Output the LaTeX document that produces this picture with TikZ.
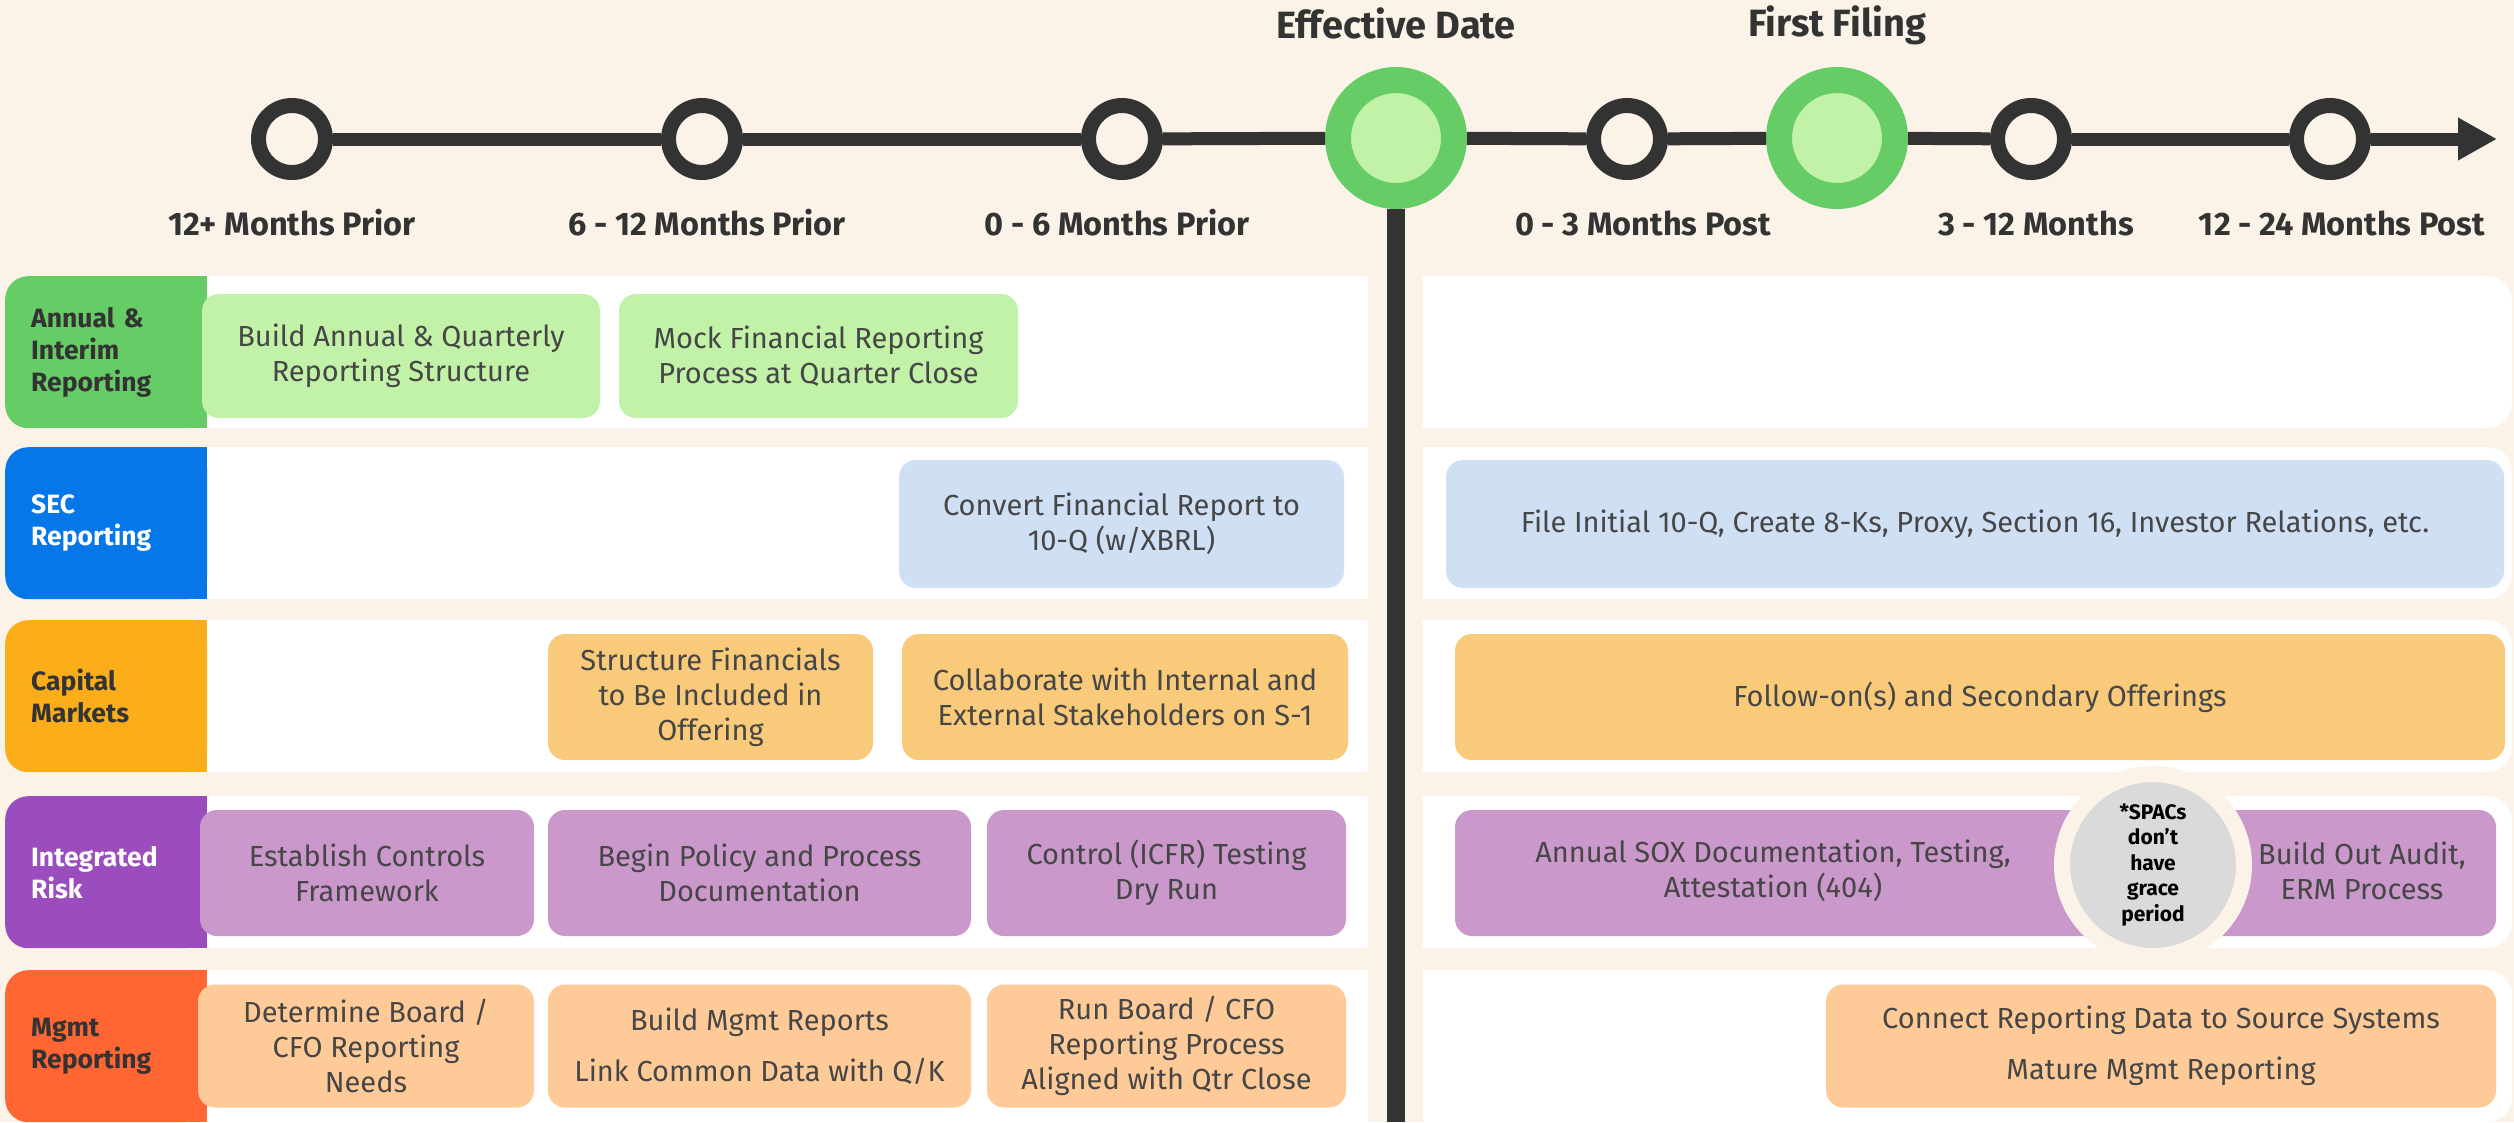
\documentclass[tikz,border=0pt]{standalone}
\usepackage{fontspec}
\setmainfont{Fira Sans}
\usetikzlibrary{arrows.meta}
\definecolor{cream}{HTML}{FCF3E8}
\definecolor{dark}{HTML}{333333}
\definecolor{txt}{HTML}{464646}
\definecolor{gA}{HTML}{66CC66}
\definecolor{gAl}{HTML}{C2F2A8}
\definecolor{blueA}{HTML}{0577E8}
\definecolor{blueL}{HTML}{CFE0F5}
\definecolor{orA}{HTML}{FBAE1A}
\definecolor{orL}{HTML}{F8CA7A}
\definecolor{puA}{HTML}{9C4DBD}
\definecolor{puL}{HTML}{CB98CC}
\definecolor{reA}{HTML}{FF6633}
\definecolor{reL}{HTML}{FECB98}
\definecolor{grC}{HTML}{DADADA}
\newcommand\bxf{\fontsize{29}{35}\selectfont}
\newcommand\tabf{\fontsize{26.5}{32}\selectfont\bfseries}
\newcommand\lblf{\fontsize{32.5}{38}\selectfont\bfseries}
\newcommand\ttlf{\fontsize{38}{44}\selectfont\bfseries}
\newcommand\spf{\fontsize{21}{25.5}\selectfont\bfseries}
\begin{document}
\begin{tikzpicture}[x=1pt,y=-1pt,
  box/.style={rounded corners=17pt, inner sep=0pt, align=center, text=txt, font=\bxf},
  tab/.style={rounded corners=23pt, inner sep=0pt, minimum width=202pt, minimum height=152pt,
    text width=150pt, align=left, font=\tabf, anchor=north west},
  ring/.style={circle, draw=dark, fill=cream, line width=15pt, minimum size=67pt, inner sep=0pt},
  gring/.style={circle, draw=gA, fill=gAl, line width=26pt, minimum size=116pt, inner sep=0pt},
  tl/.style={draw=dark, line width=13pt},
  lbl/.style={font=\lblf, text=dark, anchor=base, inner sep=0pt},
  ttl/.style={font=\ttlf, text=dark, anchor=base, inner sep=0pt}]
\useasboundingbox (0,0) rectangle (2514,1122);
\fill[cream] (0,0) rectangle (2514,1122);

% row bands
\foreach \ya/\yb in {276/428, 447/599, 620/772, 796/948, 970/1122}{
  \fill[white, rounded corners=25pt] (183,\ya) rectangle (1368,\yb);
  \fill[white] (1300,\ya) rectangle (1368,\yb);
  \fill[white, rounded corners=25pt] (1423,\ya) rectangle (2512,\yb);
  \fill[white] (1423,\ya) rectangle (1490,\yb);
}

% tabs
\fill[gA] (150,276) rectangle (207,428);
\node[tab, fill=gA, text=dark] (tabA) at (5,276) {Annual \&\\Interim\\Reporting};
\fill[blueA] (150,447) rectangle (207,599);
\node[tab, fill=blueA, text=white] (tabS) at (5,447) {SEC\\Reporting};
\fill[orA] (150,620) rectangle (207,772);
\node[tab, fill=orA, text=dark] (tabC) at (5,620) {Capital\\Markets};
\fill[puA] (150,796) rectangle (207,948);
\node[tab, fill=puA, text=white] (tabI) at (5,796) {Integrated\\Risk};
\fill[reA] (150,970) rectangle (207,1122);
\node[tab, fill=reA, text=dark] (tabM) at (5,970) {Mgmt\\Reporting};

% row 1
\node[box, fill=gAl, minimum width=398pt, minimum height=124pt] (a1) at (401,356) {Build Annual \& Quarterly\\Reporting Structure};
\node[box, fill=gAl, minimum width=399pt, minimum height=124pt] (a2) at (818.5,356) {Mock Financial Reporting\\Process at Quarter Close};
% row 2
\node[box, fill=blueL, minimum width=445pt, minimum height=128pt] (s1) at (1121.5,524) {Convert Financial Report to\\10-Q (w/XBRL)};
\node[box, fill=blueL, minimum width=1058pt, minimum height=128pt] (s2) at (1975,524) {File Initial 10-Q, Create 8-Ks, Proxy, Section 16, Investor Relations, etc.};
% row 3
\node[box, fill=orL, minimum width=325pt, minimum height=126pt] (c1) at (710.5,697) {Structure Financials\\to Be Included in\\Offering};
\node[box, fill=orL, minimum width=446pt, minimum height=126pt] (c2) at (1125,697) {Collaborate with Internal and\\External Stakeholders on S-1};
\node[box, fill=orL, minimum width=1050pt, minimum height=126pt] (c3) at (1980,697) {Follow-on(s) and Secondary Offerings};
% row 4
\node[box, fill=puL, minimum width=334pt, minimum height=126pt] (i1) at (367,873) {Establish Controls\\Framework};
\node[box, fill=puL, minimum width=423pt, minimum height=126pt] (i2) at (759.5,873) {Begin Policy and Process\\Documentation};
\node[box, fill=puL, minimum width=359pt, minimum height=126pt] (i3) at (1166.5,873) {Control (ICFR) Testing\\Dry Run};
\node[box, fill=puL, minimum width=1041pt, minimum height=126pt] (i4) at (1975.5,873) {};
\node[align=center, text=txt, font=\bxf, inner sep=0pt] (i4a) at (1773,871) {Annual SOX Documentation, Testing,\\Attestation (404)};
\node[align=center, text=txt, font=\bxf, inner sep=0pt] (i4b) at (2362,871) {Build Out Audit,\\ERM Process};
\node[circle, fill=grC, draw=cream, line width=16pt, minimum size=182pt, inner sep=0pt, align=center, font=\spf, text=black] (spac) at (2153,865) {*SPACs\\don’t\\have\\grace\\period};
% row 5
\node[box, fill=reL, minimum width=336pt, minimum height=123pt] (m1) at (366,1046) {Determine Board /\\CFO Reporting\\Needs};
\node[box, fill=reL, minimum width=423pt, minimum height=123pt] (m2) at (759.5,1046) {Build Mgmt Reports\\[16pt]Link Common Data with Q/K};
\node[box, fill=reL, minimum width=359pt, minimum height=123pt] (m3) at (1166.5,1046) {Run Board / CFO\\Reporting Process\\Aligned with Qtr Close};
\node[box, fill=reL, minimum width=670pt, minimum height=123pt] (m4) at (2161,1046) {Connect Reporting Data to Source Systems\\[16pt]Mature Mgmt Reporting};

% timeline
\node[ring] (t1) at (292,139) {};
\node[ring] (t2) at (702,139) {};
\node[ring] (t3) at (1122,139) {};
\node[gring] (eff) at (1396,138) {};
\node[ring] (t4) at (1627,139) {};
\node[gring] (ff) at (1837,138) {};
\node[ring] (t5) at (2031,139) {};
\node[ring] (t6) at (2330,139) {};
\coordinate (tend) at (2497,139);
\coordinate (vend) at (1396,1122);
\draw[tl] (t1) -- (t2);
\draw[tl] (t2) -- (t3);
\draw[tl] (t3) -- (eff);
\draw[tl] (eff) -- (t4);
\draw[tl] (t4) -- (ff);
\draw[tl] (ff) -- (t5);
\draw[tl] (t5) -- (t6);
\draw[tl, -{Triangle[length=39pt,width=40pt]}] (t6) -- (tend);
\draw[draw=dark, line width=18pt] (eff) -- (vend);

% labels
\node[ttl] (leff) at (1396,38) {Effective Date};
\node[ttl] (lff) at (1837,36) {First Filing};
\node[lbl] (l1) at (292,235) {12+ Months Prior};
\node[lbl] (l2) at (707,235) {6 - 12 Months Prior};
\node[lbl] (l3) at (1117,235) {0 - 6 Months Prior};
\node[lbl] (l4) at (1643,235) {0 - 3 Months Post};
\node[lbl] (l5) at (2036,235) {3 - 12 Months};
\node[lbl] (l6) at (2342,235) {12 - 24 Months Post};
\end{tikzpicture}
\end{document}
